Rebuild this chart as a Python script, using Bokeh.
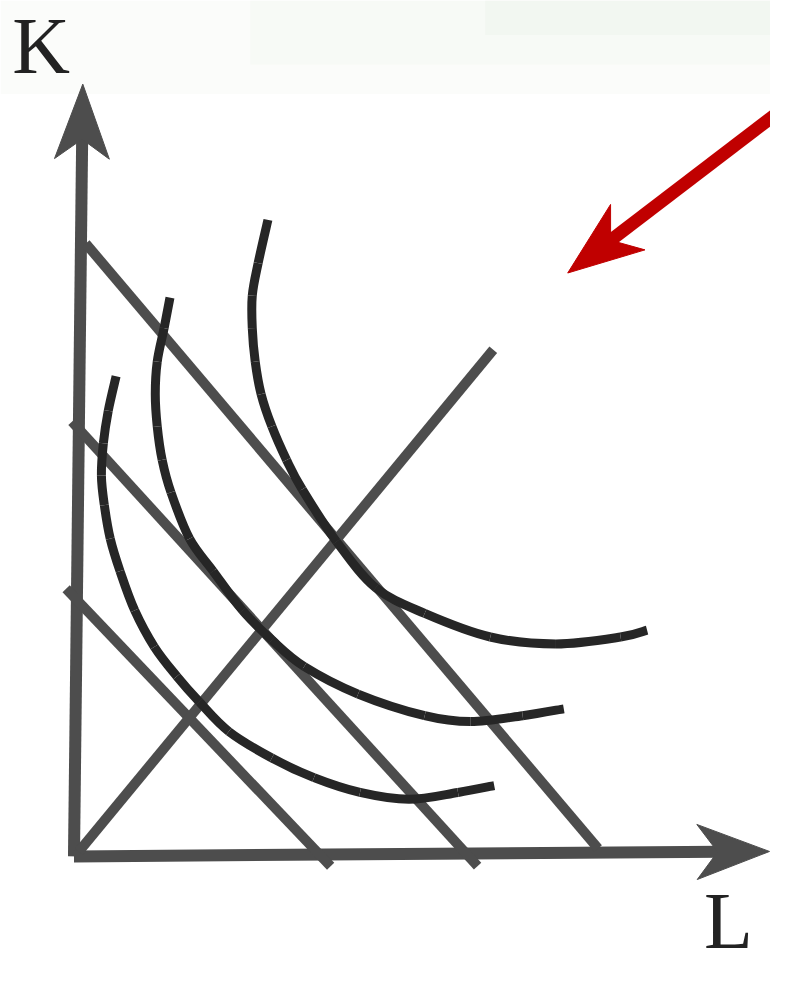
import numpy as np
from bokeh.plotting import figure
from bokeh.models import Range1d
from bokeh.embed import file_html
from bokeh.resources import INLINE
from bokeh.core.properties import value

# ---- diagram data (L on x, K on y; origin at the axes' corner) ----
axis_K_tip = (9, 785)          # tip of the K axis arrow
axis_L_tip = (710, 5)          # tip of the L axis arrow

# isocost lines: (L0, K0) -> (L1, K1)
isocost_outer_L = [12, 535]
isocost_outer_K = [623, 8]
isocost_middle_L = [-2, 412]
isocost_middle_K = [442, -10]
isocost_inner_L = [-8, 262]
isocost_inner_K = [272, -10]

# expansion path ray
ray_L = [5, 428]
ray_K = [5, 515]

# isoquants
isoquant_outer_L = [198, 188, 182, 182, 185, 191, 202, 217, 233, 268, 308, 358, 425, 492, 558, 585]
isoquant_outer_K = [647, 603, 570, 537, 503, 470, 437, 403, 373, 320, 273, 247, 223, 216, 223, 230]

isoquant_middle_L = [98, 92, 85, 83, 85, 90, 99, 118, 142, 172, 202, 235, 290, 358, 405, 458, 500]
isoquant_middle_K = [568, 537, 503, 470, 437, 403, 370, 323, 290, 250, 220, 193, 165, 143, 137, 143, 150]

isoquant_inner_L = [43, 35, 30, 28, 31, 37, 47, 62, 82, 105, 128, 158, 202, 245, 292, 342, 392, 429]
isoquant_inner_K = [488, 453, 420, 387, 357, 323, 290, 250, 213, 183, 157, 127, 100, 80, 65, 58, 65, 72]

# red pointer arrow: start -> tip
red_start = (725, 761)
red_tip = (504, 593)

labels_text = ["K", "L"]
labels_L = [-63, 643]
labels_K = [824, -66]

GRAY = "#4d4d4d"
DARK = "#262626"
RED = "#c00000"

p = figure(width=770, height=970,
           x_range=Range1d(-75, 711), y_range=Range1d(-116, 870),
           output_backend="svg", toolbar_location=None,
           x_axis_location=None, y_axis_location=None,
           min_border=0)
p.grid.visible = False
p.outline_line_color = None
p.background_fill_color = "white"
p.border_fill_color = "white"

# faint top band
p.quad(left=[-75], right=[711], bottom=[775], top=[870], fill_color="#fbfcfa", line_color=None)
p.quad(left=[180], right=[711], bottom=[805], top=[870], fill_color="#f4f7f2", fill_alpha=0.5, line_color=None)
p.quad(left=[420], right=[711], bottom=[835], top=[870], fill_color="#eef4eb", fill_alpha=0.5, line_color=None)


def head(tip, frm, length, half, notch):
    t = np.array(tip, dtype=float)
    d = t - np.array(frm, dtype=float)
    d /= np.hypot(*d)
    n = np.array([-d[1], d[0]])
    base = t - d * length
    pts = [t, base + n * half, t - d * notch, base - n * half]
    shaft_end = t - d * (notch - 3)
    return [q[0] for q in pts], [q[1] for q in pts], shaft_end


def smooth(xs, ys, **kw):
    P = np.column_stack([xs, ys]).astype(float)
    n = len(P)
    seg = {k: [] for k in ["x0", "y0", "x1", "y1", "cx0", "cy0", "cx1", "cy1"]}
    for i in range(n - 1):
        p0 = P[i - 1] if i > 0 else P[i]
        p1, p2 = P[i], P[i + 1]
        p3 = P[i + 2] if i + 2 < n else P[i + 1]
        c1 = p1 + (p2 - p0) / 6.0
        c2 = p2 - (p3 - p1) / 6.0
        seg["x0"].append(p1[0]); seg["y0"].append(p1[1])
        seg["x1"].append(p2[0]); seg["y1"].append(p2[1])
        seg["cx0"].append(c1[0]); seg["cy0"].append(c1[1])
        seg["cx1"].append(c2[0]); seg["cy1"].append(c2[1])
    p.bezier(**seg, **kw)

# axes with arrow heads
for tip, length, half, notch in [(axis_K_tip, 76, 28, 56), (axis_L_tip, 74, 28, 53)]:
    hx, hy, se = head(tip, (0, 0), length, half, notch)
    p.line([0, se[0]], [0, se[1]], line_color=GRAY, line_width=12, line_cap="butt")
    p.patch(hx, hy, fill_color=GRAY, line_color=GRAY, line_width=1)

# isocost lines and ray
for xs, ys in [(isocost_outer_L, isocost_outer_K), (isocost_middle_L, isocost_middle_K),
               (isocost_inner_L, isocost_inner_K), (ray_L, ray_K)]:
    p.line(xs, ys, line_color=GRAY, line_width=10, line_cap="butt")

# isoquants
for xs, ys in [(isoquant_outer_L, isoquant_outer_K), (isoquant_middle_L, isoquant_middle_K),
               (isoquant_inner_L, isoquant_inner_K)]:
    smooth(xs, ys, line_color=DARK, line_width=9, line_cap="butt")

# red arrow
hx, hy, se = head(red_tip, red_start, 77, 29, 55)
p.line([red_start[0], se[0]], [red_start[1], se[1]], line_color=RED, line_width=13, line_cap="butt")
p.patch(hx, hy, fill_color=RED, line_color=RED, line_width=1)

p.text(x=labels_L, y=labels_K, text=labels_text, text_font=value("Liberation Serif"),
       text_font_size="80px", text_color="#222222", text_baseline="alphabetic", text_align="left")

open("out.html", "w").write(file_html(p, INLINE))
